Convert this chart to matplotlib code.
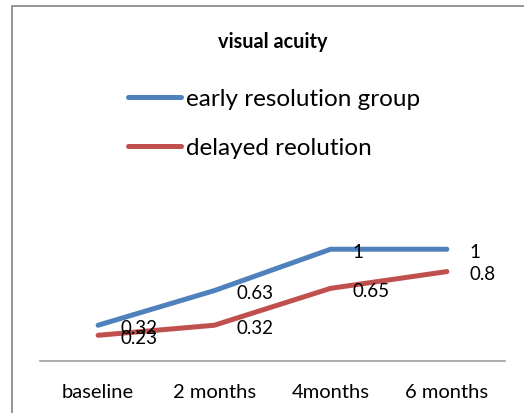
import matplotlib
matplotlib.use("Agg")
import matplotlib.pyplot as plt
from matplotlib.patches import Rectangle

plt.rcParams['font.family'] = ['Lato', 'DejaVu Sans']

# data
periods = ["baseline", "2 months", "4months", "6 months"]
early = [0.32, 0.63, 1, 1]
delayed = [0.23, 0.32, 0.65, 0.8]
series_names = ["early resolution group", "delayed reolution"]

blue = "#4F81BD"
red = "#C0504D"

fig = plt.figure(figsize=(5.24, 4.14), dpi=100)
ax = fig.add_axes([0.0763, 0.1256, 0.8874, 0.756])

x = range(len(periods))
l1, = ax.plot(x, early, color=blue, lw=3.6, solid_capstyle='round', solid_joinstyle='round')
l2, = ax.plot(x, delayed, color=red, lw=3.6, solid_capstyle='round', solid_joinstyle='round')

# data labels to the right of each point
for vals in (early, delayed):
    for i, v in enumerate(vals):
        ax.annotate(f"{v:g}", (i, v), xytext=(16, -1.5), textcoords='offset points',
                    ha='left', va='center', fontsize=13.5, color='black')

ax.set_xlim(-0.5, 3.5)
ax.set_ylim(0, 2.8)
ax.set_xticks(list(x))
ax.set_xticklabels(periods, fontsize=14.5)
ax.tick_params(axis='x', length=0, pad=16)
ax.set_yticks([])
for s in ['top', 'right', 'left']:
    ax.spines[s].set_visible(False)
ax.spines['bottom'].set_color('#A0A0A0')
ax.spines['bottom'].set_linewidth(1.2)

fig.text(0.521, 0.898, "visual acuity", ha='center', va='center', fontsize=14.3, fontweight='bold')

fig.legend([l1, l2], series_names, loc='upper left', bbox_to_anchor=(0.244, 0.785),
           frameon=False, fontsize=17.5, handlelength=2.2, handletextpad=0.2,
           labelspacing=1.17, borderaxespad=0, borderpad=0)

# chart border
fig.patches.append(Rectangle((12 / 524, -0.1), 1.2, 0.983 + 0.1, transform=fig.transFigure,
                             fill=False, edgecolor='#8C8C8C', lw=1.3))

fig.savefig("out.png", dpi=100)
